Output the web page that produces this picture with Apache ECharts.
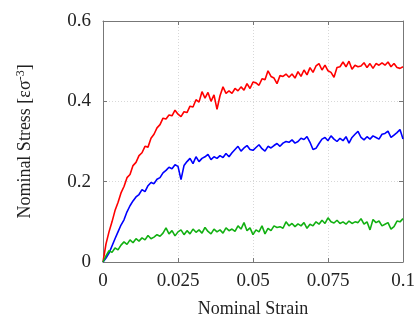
<!DOCTYPE html>
<html>
<head>
<meta charset="utf-8">
<script src="https://cdn.jsdelivr.net/npm/echarts@6/dist/echarts.min.js"></script>
<style>
  html, body { margin: 0; padding: 0; background: #fff; }
  #chart { width: 419px; height: 323px; }
</style>
</head>
<body>
<div id="chart"></div>
<script>
// nominal strain samples
var strain = [0,.001,.002,.003,.004,.005,.006,.007,.008,.009,.010,.011,.012,.013,.014,.015,.016,.017,.018,.019,
  .020,.021,.022,.023,.024,.025,.026,.027,.028,.029,.030,.031,.032,.033,.034,.035,.036,.037,.038,.039,
  .040,.041,.042,.043,.044,.045,.046,.047,.048,.049,.050,.051,.052,.053,.054,.055,.056,.057,.058,.059,
  .060,.061,.062,.063,.064,.065,.066,.067,.068,.069,.070,.071,.072,.073,.074,.075,.076,.077,.078,.079,
  .080,.081,.082,.083,.084,.085,.086,.087,.088,.089,.090,.091,.092,.093,.094,.095,.096,.097,.098,.099,.100];

var redStress = [0,.045,.075,.10,.128,.148,.172,.188,.21,.218,.24,.248,.265,.272,.288,.286,.308,.318,.334,.342,
  .358,.356,.366,.364,.378,.368,.362,.374,.372,.388,.386,.404,.398,.424,.408,.422,.4,.416,.38,.414,
  .436,.42,.426,.42,.432,.426,.436,.428,.444,.432,.448,.446,.44,.456,.454,.476,.462,.458,.444,.464,
  .462,.468,.46,.468,.458,.474,.462,.478,.466,.484,.472,.488,.494,.478,.49,.476,.472,.46,.484,.486,
  .498,.486,.5,.48,.49,.486,.488,.496,.484,.494,.482,.494,.49,.496,.49,.498,.486,.494,.484,.482,.486];

var blueStress = [0,.01,.022,.04,.058,.075,.092,.105,.125,.14,.152,.162,.168,.18,.175,.19,.198,.195,.206,.21,
  .222,.228,.236,.232,.242,.238,.205,.24,.25,.258,.245,.262,.25,.258,.262,.268,.255,.262,.258,.265,
  .26,.27,.262,.272,.28,.288,.276,.284,.29,.28,.278,.285,.292,.282,.276,.288,.284,.29,.295,.288,
  .296,.30,.298,.304,.296,.30,.308,.305,.312,.298,.28,.283,.295,.306,.31,.302,.314,.306,.30,.308,
  .302,.312,.296,.31,.318,.325,.31,.304,.312,.306,.314,.31,.306,.318,.32,.326,.31,.316,.322,.33,.306];

var greenStress = [0,.015,.028,.024,.035,.03,.042,.05,.044,.055,.048,.058,.052,.06,.055,.066,.058,.062,.068,.064,
  .072,.085,.07,.078,.065,.075,.08,.068,.078,.07,.082,.074,.08,.072,.086,.076,.07,.082,.075,.08,
  .072,.085,.078,.082,.076,.09,.082,.098,.078,.085,.068,.08,.075,.09,.07,.084,.078,.09,.086,.088,
  .084,.10,.09,.096,.088,.095,.09,.098,.084,.094,.09,.10,.094,.104,.096,.11,.10,.097,.104,.096,
  .10,.094,.102,.096,.10,.098,.108,.094,.10,.08,.106,.098,.102,.09,.094,.098,.082,.088,.102,.10,.108];

var xTicks = [0, 0.025, 0.05, 0.075, 0.1];
var yTicks = [0, 0.2, 0.4, 0.6];

function pairs(ys) {
  return strain.map(function (x, i) { return [x, ys[i]]; });
}

var font = '"Liberation Serif", "DejaVu Serif", serif';
var frame = '#777';

var chart = echarts.init(document.getElementById('chart'), null, { renderer: 'canvas' });

var option = {
  animation: false,
  grid: { left: 103, right: 16, top: 21, bottom: 59 },
  xAxis: [
    {
      type: 'value', min: 0, max: 0.1, interval: 0.025,
      name: 'Nominal Strain', nameLocation: 'middle', nameGap: 38,
      nameTextStyle: { fontFamily: font, fontSize: 18, color: '#222' },
      axisLine: { show: true, onZero: false, lineStyle: { color: frame, width: 1 } },
      axisTick: { show: true, inside: true, length: 4, lineStyle: { color: frame } },
      axisLabel: {
        fontFamily: font, fontSize: 19, color: '#222', margin: 10,
        formatter: function (v) { return xTicks.indexOf(v) >= 0 ? String(v) : ''; }
      },
      splitLine: { show: true, lineStyle: { color: '#d8d8d8', type: [1, 2] } }
    },
    {
      type: 'value', position: 'top', min: 0, max: 0.1, interval: 0.025,
      axisLine: { show: true, onZero: false, lineStyle: { color: frame, width: 1 } },
      axisTick: { show: true, inside: true, length: 4, lineStyle: { color: frame } },
      axisLabel: { show: false },
      splitLine: { show: false }
    }
  ],
  yAxis: [
    {
      type: 'value', min: 0, max: 0.6, interval: 0.2,
      name: 'Nominal Stress [εσ{sup|-3}]', nameLocation: 'middle', nameGap: 68,
      nameTextStyle: {
        fontFamily: font, fontSize: 18, color: '#222',
        rich: { sup: { fontFamily: font, fontSize: 12, color: '#222', verticalAlign: 'top', padding: [0, 0, 8, 0] } }
      },
      axisLine: { show: true, onZero: false, lineStyle: { color: frame, width: 1 } },
      axisTick: { show: true, inside: true, length: 4, lineStyle: { color: frame } },
      axisLabel: {
        fontFamily: font, fontSize: 19, color: '#222', margin: 12,
        formatter: function (v) { return yTicks.indexOf(Math.round(v * 10) / 10) >= 0 ? String(Math.round(v * 10) / 10) : ''; }
      },
      splitLine: { show: true, lineStyle: { color: '#d8d8d8', type: [1, 2] } }
    },
    {
      type: 'value', position: 'right', min: 0, max: 0.6, interval: 0.2,
      axisLine: { show: true, onZero: false, lineStyle: { color: frame, width: 1 } },
      axisTick: { show: true, inside: true, length: 4, lineStyle: { color: frame } },
      axisLabel: { show: false },
      splitLine: { show: false }
    }
  ],
  series: [
    {
      type: 'line', data: pairs(redStress), showSymbol: false,
      lineStyle: { color: '#ff0000', width: 1.6 }, z: 3
    },
    {
      type: 'line', data: pairs(blueStress), showSymbol: false,
      lineStyle: { color: '#0000ff', width: 1.6 }, z: 3
    },
    {
      type: 'line', data: pairs(greenStress), showSymbol: false,
      lineStyle: { color: '#12b012', width: 1.6 }, z: 3
    }
  ]
};

chart.setOption(option);
</script>
</body>
</html>
